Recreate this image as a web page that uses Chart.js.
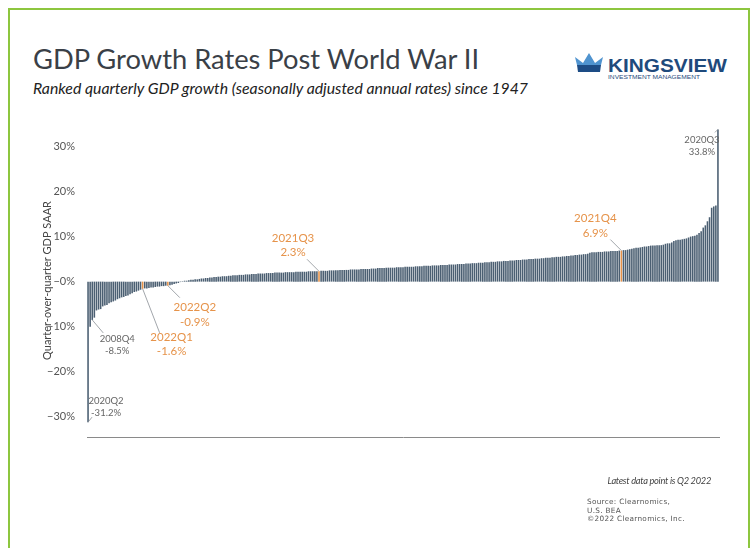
<!DOCTYPE html>
<html>
<head>
<meta charset="utf-8">
<script src="https://cdn.jsdelivr.net/npm/chart.js@4.4.0/dist/chart.umd.min.js"></script>
<style>
  body { margin: 0; width: 753px; height: 548px; overflow: hidden; background: #fff; position: relative; font-family: Lato, "Open Sans", sans-serif; }
  .frame { position: absolute; left: 8px; top: 8px; width: 742px; height: 600px; border: 2px solid #8dc63f; box-sizing: border-box; }
  #c { position: absolute; left: 0; top: 0; }
  .title { position: absolute; left: 33px; top: 42px; font-size: 27.3px; color: #3a4047; white-space: nowrap; }
  .sub { position: absolute; left: 33px; top: 78px; font-size: 15.8px; font-style: italic; color: #222; white-space: nowrap; }
  .logo { position: absolute; left: 572px; top: 52px; }
  .latest { position: absolute; right: 42px; top: 475px; font-size: 9.3px; letter-spacing: -0.3px; font-style: italic; color: #444; }
  .source { position: absolute; left: 587px; top: 498px; font-size: 7.3px; line-height: 8.5px; letter-spacing: 0.3px; color: #555; font-family: "DejaVu Sans", sans-serif; }
</style>
</head>
<body>
<div class="frame"></div>
<div class="title">GDP Growth Rates Post World War II</div>
<div class="sub">Ranked quarterly GDP growth (seasonally adjusted annual rates) since 1947</div>
<svg class="logo" width="160" height="30">
  <polygon points="3,5 11,11 17,1 23,11 31,5 29,13 5,13" fill="#4f93cf"/>
  <polygon points="5,13 29,13 28,20 6,20" fill="#1d4c85"/>
  <text x="36" y="20" font-family="Liberation Sans Narrow, Liberation Sans, sans-serif" font-weight="bold" font-size="19" fill="#1f4a7c" textLength="119" lengthAdjust="spacingAndGlyphs">KINGSVIEW</text>
  <text x="36" y="27" font-family="Liberation Sans Narrow, Liberation Sans, sans-serif" font-size="6" fill="#1f4a7c" textLength="92" lengthAdjust="spacingAndGlyphs">INVESTMENT MANAGEMENT</text>
</svg>
<canvas id="c" width="753" height="548"></canvas>
<div class="latest">Latest data point is Q2 2022</div>
<div class="source">Source: Clearnomics,<br>U.S. BEA<br>©2022 Clearnomics, Inc.</div>

<script>
// ranked quarterly GDP growth, SAAR %, lowest to highest (1947Q2 - 2022Q2)
const gdpRanked = [
  -31.2, -10.0, -8.5, -8.0, -6.4, -6.2, -6.1, -5.5, -5.3, -5.2,
  -4.8, -4.6, -4.4, -4.2, -3.9, -3.7, -3.5, -3.4, -3.2, -3.1,
  -2.8, -2.6, -2.3, -2.2, -2.0, -1.8, -1.6, -1.5, -1.5, -1.4,
  -1.3, -1.3, -1.2, -1.1, -1.1, -1.0, -1.0, -0.9, -0.9, -0.8,
  -0.7, -0.5, -0.4, -0.3, -0.1,
  0.1, 0.2, 0.2, 0.3, 0.4, 0.4, 0.5, 0.5, 0.6, 0.7,
  0.7, 0.8, 0.8, 0.9, 0.9, 1.0, 1.0, 1.1, 1.1, 1.2,
  1.2, 1.2, 1.3, 1.3, 1.4, 1.4, 1.4, 1.5, 1.5, 1.5,
  1.6, 1.6, 1.6, 1.7, 1.7, 1.7, 1.8, 1.8, 1.8, 1.8,
  1.9, 1.9, 1.9, 1.9, 2.0, 2.0, 2.0, 2.0, 2.0, 2.1,
  2.1, 2.1, 2.1, 2.1, 2.2, 2.2, 2.2, 2.2, 2.2, 2.2,
  2.3, 2.3, 2.3, 2.3, 2.3, 2.3,
  2.4, 2.4, 2.4, 2.4, 2.5, 2.5, 2.5, 2.5, 2.5, 2.6,
  2.6, 2.6, 2.6, 2.6, 2.7, 2.7, 2.7, 2.7, 2.7, 2.8,
  2.8, 2.8, 2.8, 2.8, 2.9, 2.9, 2.9, 3.0, 3.0, 3.0,
  3.0, 3.1, 3.1, 3.1, 3.1, 3.1, 3.2, 3.2, 3.2, 3.2,
  3.3, 3.3, 3.3, 3.3, 3.3, 3.4, 3.4, 3.4, 3.4, 3.5,
  3.5, 3.5, 3.5, 3.6, 3.6, 3.6, 3.6, 3.7, 3.7, 3.7,
  3.7, 3.8, 3.8, 3.8, 3.8, 3.9, 3.9, 3.9, 3.9, 4.0, 4.0, 4.0,
  4.1, 4.1, 4.1, 4.2, 4.2, 4.2, 4.3, 4.3, 4.3, 4.4,
  4.4, 4.4, 4.5, 4.5, 4.5, 4.6, 4.6, 4.6, 4.7, 4.7,
  4.7, 4.8, 4.8, 4.8, 4.9, 4.9, 4.9, 5.0, 5.0, 5.0,
  5.1, 5.1, 5.1, 5.2, 5.2, 5.3, 5.3, 5.3, 5.4, 5.4,
  5.5, 5.5, 5.5, 5.6, 5.6, 5.7, 5.7, 5.8, 5.8, 5.9,
  5.9, 6.0, 6.0, 6.1, 6.1, 6.2,
  6.4, 6.5, 6.5, 6.5, 6.6, 6.6, 6.6, 6.7, 6.7, 6.7, 6.8, 6.8, 6.8, 6.8, 6.9,
  6.9,
  7.0, 7.0, 7.1, 7.2, 7.3, 7.4, 7.5, 7.5, 7.6, 7.7,
  7.8, 7.8, 7.9, 8.0, 8.0, 8.0, 8.1, 8.1, 8.1, 8.2,
  8.4, 8.5, 8.5, 8.7, 9.0, 9.2, 9.3, 9.3, 9.4, 9.5,
  9.6, 9.8, 10.0, 10.1, 10.2, 10.4, 10.8, 11.2, 12.0, 12.5,
  13.4, 14.3, 16.4, 16.7, 16.9,
  33.8
];
const ranks = gdpRanked.map((v, i) => i + 1);
const yTicks = [-30, -20, -10, 0, 10, 20, 30];

// labelled quarters and their rank position
const noteQuarters = ['2020Q2', '2008Q4', '2022Q1', '2022Q2', '2021Q3', '2021Q4', '2020Q3'];
const noteRanks = [0, 2, 26, 38, 110, 254, 300];
const recentQuarters = ['2022Q1', '2022Q2', '2021Q3', '2021Q4'];

const BAR = '#4b5f72';
const ORANGE = '#e6934a';
const GREY_TXT = '#666';

// where each note goes relative to its bar end: text centre dx, dy and leader end
const noteLayout = {
  '2020Q2': { dx: 18, dy: -21, lx: 4, ly: -5, size: 9.5 },
  '2008Q4': { dx: 25, dy: 19, lx: 11, ly: 13, size: 9.5 },
  '2022Q1': { dx: 29, dy: 48, lx: 17, ly: 44, size: 11.5 },
  '2022Q2': { dx: 27, dy: 22, lx: 12, ly: 12, size: 11.5 },
  '2021Q3': { dx: -26, dy: -33, lx: -12, ly: -12, size: 11.5 },
  '2021Q4': { dx: -26, dy: -32, lx: -11, ly: -11, size: 11.5 },
  '2020Q3': { dx: -16, dy: 11, lx: -3, ly: 3, size: 9.5 }
};

const barColors = gdpRanked.map((v, i) => {
  const k = noteRanks.indexOf(i);
  return (k >= 0 && recentQuarters.includes(noteQuarters[k])) ? ORANGE : BAR;
});

const notesPlugin = {
  id: 'notes',
  afterDatasetsDraw(chart) {
    const ctx = chart.ctx;
    const meta = chart.getDatasetMeta(0);
    const yScale = chart.scales.y;
    ctx.save();
    noteQuarters.forEach((q, k) => {
      const i = noteRanks[k];
      const v = gdpRanked[i];
      const bx = meta.data[i].x;
      const by = yScale.getPixelForValue(v);
      const lay = noteLayout[q];
      const col = recentQuarters.includes(q) ? ORANGE : GREY_TXT;
      ctx.strokeStyle = '#8a8f96';
      ctx.lineWidth = 0.8;
      ctx.beginPath();
      ctx.moveTo(bx, by);
      ctx.lineTo(bx + lay.lx, by + lay.ly);
      ctx.stroke();
      ctx.fillStyle = col;
      ctx.font = lay.size + 'px Lato, sans-serif';
      ctx.textAlign = 'center';
      ctx.textBaseline = 'middle';
      ctx.fillText(q, bx + lay.dx, by + lay.dy);
      ctx.fillText(v.toFixed(1) + '%', bx + lay.dx, by + lay.dy + lay.size * 1.25);
    });
    ctx.restore();
  }
};

new Chart(document.getElementById('c'), {
  type: 'bar',
  data: {
    labels: ranks,
    datasets: [{
      data: gdpRanked,
      backgroundColor: barColors,
      barPercentage: 0.75,
      categoryPercentage: 1.0
    }]
  },
  options: {
    responsive: false,
    animation: false,
    layout: { padding: { top: 124, right: 34, bottom: 111, left: 0 } },
    plugins: { legend: { display: false }, tooltip: { enabled: false } },
    scales: {
      x: {
        grid: { display: false },
        ticks: { display: false },
        border: { display: true, color: '#8a8a8a', width: 1 },
        afterFit: s => { s.height = 0; }
      },
      y: {
        min: -34.5,
        max: 35,
        afterBuildTicks: s => { s.ticks = yTicks.map(v => ({ value: v })); },
        afterFit: s => { s.width = 87; },
        grid: { display: false },
        border: { display: false },
        ticks: {
          padding: 4,
          color: '#555',
          font: { family: 'Lato', size: 11 },
          callback: v => (v <= 0 ? '\u2212' + Math.abs(v) : v) + '%'
        },
        title: {
          display: true,
          text: 'Quarter-over-quarter GDP SAAR',
          color: '#444',
          font: { family: 'Lato', size: 11 },
          padding: { top: 41 }
        }
      }
    }
  },
  plugins: [notesPlugin]
});
</script>
</body>
</html>
